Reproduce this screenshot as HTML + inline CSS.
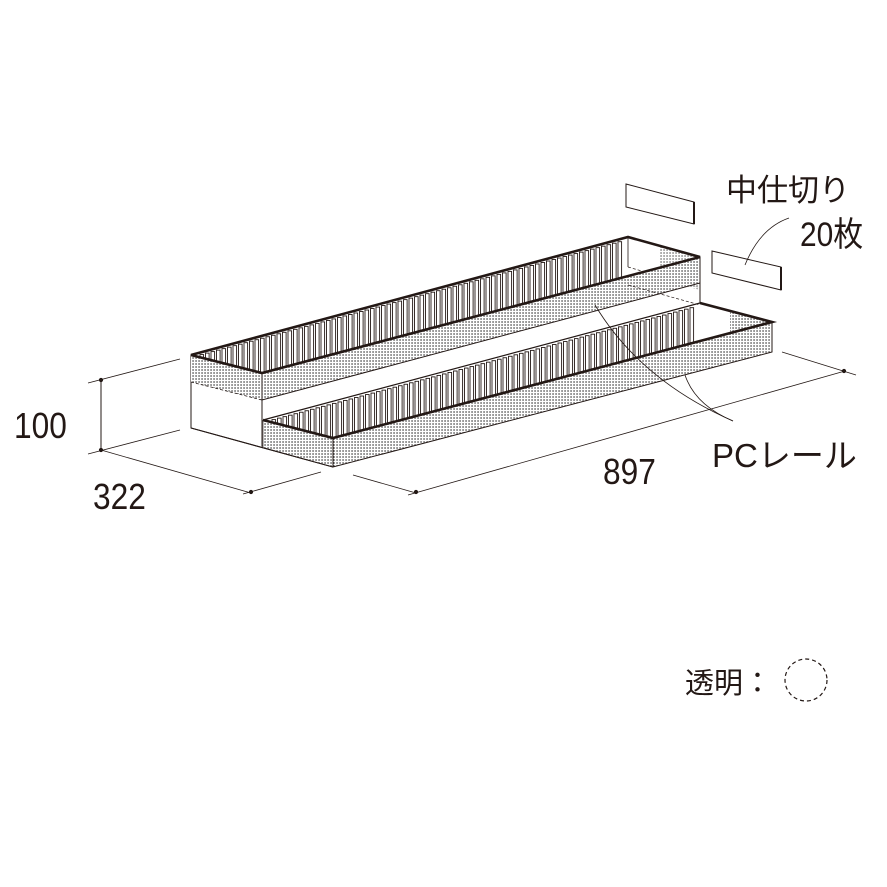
<!DOCTYPE html>
<html><head><meta charset="utf-8"><style>
html,body{margin:0;padding:0;background:#fff;width:887px;height:887px;overflow:hidden}
svg{display:block}
text{font-family:"Liberation Sans","Noto Sans CJK JP",sans-serif;fill:#231815}
</style></head><body>
<svg id="s" width="887" height="887" viewBox="0 0 887 887" xmlns="http://www.w3.org/2000/svg">
<defs>
<pattern id="dots" width="3" height="3" patternUnits="userSpaceOnUse">
<rect x="0" y="0" width="3" height="3" fill="#fff"/>
<rect x="0.5" y="0" width="1.1" height="2" fill="#555"/>
</pattern>
<clipPath id="cu"><polygon points="191,355 628,237 700,257 262,373"/></clipPath>
<clipPath id="cl"><polygon points="263,420 700,303 772,322 333,438"/></clipPath>
</defs>
<g stroke="#231815" fill="none" stroke-width="1">
<line x1="88" y1="383" x2="180" y2="359" stroke-width="0.8"/>
<line x1="88" y1="454" x2="180" y2="430" stroke-width="0.8"/>
<line x1="101" y1="380" x2="101" y2="450"/>
<circle cx="101" cy="380" r="1.6" fill="#231815"/>
<circle cx="101" cy="450" r="1.6" fill="#231815"/>
<line x1="101" y1="450" x2="251" y2="493" stroke-width="0.8"/>
<line x1="243" y1="494" x2="321" y2="472" stroke-width="0.8"/>
<circle cx="251" cy="492" r="1.6" fill="#231815"/>
<line x1="353" y1="475" x2="416" y2="493" stroke-width="0.8"/>
<line x1="408" y1="495" x2="845" y2="371" stroke-width="0.8"/>
<line x1="782" y1="352" x2="856" y2="375" stroke-width="0.8"/>
<circle cx="416" cy="492" r="1.6" fill="#231815"/>
<circle cx="844" cy="371" r="1.6" fill="#231815"/>
</g>
<g id="obj" stroke="#231815" fill="none" stroke-width="1">
<polygon points="191,355 262,373 262,446 333,467 191,428" fill="#fff"/>
<polygon points="191,355 262,373 262,400 191,382" fill="url(#dots)" stroke="none"/>
<line x1="191" y1="382" x2="262" y2="400" stroke-dasharray="3,2" stroke-width="0.8"/>
<polygon points="191,355 628,237 700,257 262,373" fill="#fff" stroke="none"/>
<g id="ribsU" clip-path="url(#cu)"></g>
<polygon points="628,237 700,257 700,290 628,267" fill="#fff" stroke="none"/>
<line x1="628" y1="237" x2="628" y2="267" stroke-width="0.8"/>
<line x1="628" y1="267" x2="700" y2="288" stroke-dasharray="3,2" stroke-width="0.7"/>
<polygon points="660,246 700,257 700,290 660,279" fill="url(#dots)" stroke="none" opacity="0.8"/>
<polygon points="262,373 700,257 700,283 262,400" fill="url(#dots)"/>
<line x1="262" y1="373" x2="262" y2="420"/>
<line x1="700" y1="257" x2="700" y2="305"/>
<polygon points="263,420 700,303 772,322 333,438" fill="#fff" stroke="none"/>
<line x1="628" y1="285" x2="700" y2="305" stroke-dasharray="3,2" stroke-width="0.7"/>
<g id="ribsL" clip-path="url(#cl)"></g>
<polygon points="263,420 333,438 333,467 263,447" fill="url(#dots)" stroke="none"/>
<line x1="263" y1="420" x2="263" y2="447" stroke-width="0.6"/>
<polygon points="730,311 772,322 772,352 730,340" fill="url(#dots)" stroke="none"/>
<polygon points="333,438 772,322 772,352 333,467" fill="url(#dots)"/>
<line x1="191" y1="428" x2="333" y2="467"/>
<polyline points="191,355 628,237 700,257" stroke-width="2.6"/>
<polyline points="191,355 262,373 700,257" stroke-width="2.6"/>
<polyline points="263,420 333,438 772,322 700,303" stroke-width="2.6"/>
<line x1="263" y1="420" x2="700" y2="303" stroke-width="1.2"/>
</g>
<g stroke="#231815" fill="#fff" stroke-width="1">
<polygon points="626,184 694,202 694,224 626,207"/>
<line x1="694" y1="202" x2="694" y2="224" stroke-width="2"/>
<polygon points="712,251 781,267 781,290 712,273"/>
<line x1="781" y1="267" x2="781" y2="290" stroke-width="2"/>
</g>
<g stroke="#231815" fill="none" stroke-width="0.8">
<path d="M745,265 Q760,228 789,218"/>
<path d="M733,421 Q640,380 595,305"/>
<path d="M733,421 Q695,405 685,375"/>
</g>
<text x="14" y="438" font-size="36" transform="translate(14,0) scale(0.88,1) translate(-14,0)">100</text>
<text x="93" y="509" font-size="36" transform="translate(93,0) scale(0.88,1) translate(-93,0)">322</text>
<text x="603" y="484" font-size="36" transform="translate(603,0) scale(0.88,1) translate(-603,0)">897</text>
<text x="726" y="201" font-size="31">中仕切り</text>
<text x="800" y="246" font-size="34" transform="translate(800,0) scale(0.88,1) translate(-800,0)">20枚</text>
<text x="712" y="467" font-size="33">PCレール</text>
<text x="685" y="693" font-size="29">透明：</text>
<circle cx="806" cy="680" r="21" fill="none" stroke="#231815" stroke-width="1.2" stroke-dasharray="4,3"/>
<script>
(function(){
var NS="http://www.w3.org/2000/svg";
function ribs(id,x0,x1,ya,xa,yb,xb,h){
 var g=document.getElementById(id);
 for(var x=x0;x<=x1;x+=5.5){
  var y=ya+(x-xa)*(yb-ya)/(xb-xa)+2;
  var r=document.createElementNS(NS,"rect");
  r.setAttribute("x",x);r.setAttribute("y",y);
  r.setAttribute("width",3.6);r.setAttribute("height",h);
  r.setAttribute("fill","#fff");r.setAttribute("stroke","#231815");r.setAttribute("stroke-width","0.9");
  g.appendChild(r);
 }
}
ribs("ribsU",200,622,355,191,237,628,45);
ribs("ribsL",272,694,420,263,303,700,40);
})();
</script>
</svg>
</body></html>
